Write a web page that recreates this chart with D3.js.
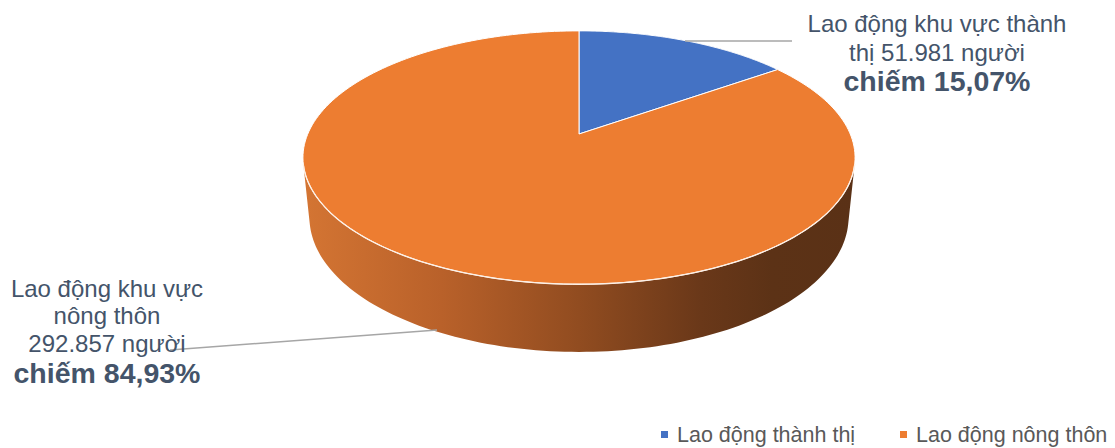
<!DOCTYPE html>
<html><head><meta charset="utf-8">
<script src="https://cdn.jsdelivr.net/npm/d3@7"></script>
<style>body{margin:0;background:#fff}svg{display:block;font-family:"Liberation Sans",Arial,sans-serif}</style>
</head><body><svg id="c" width="1115" height="448"></svg>
<script>
const categories = ["Lao động thành thị", "Lao động nông thôn"];
const values = [51981, 292857];
const percentLabels = ["15,07%", "84,93%"];
const labelLines = [
  ["Lao động khu vực thành", "thị 51.981 người"],
  ["Lao động khu vực", "nông thôn", "292.857 người"]
];
const colors = ["#4472C4", "#ED7D31"];

const svg = d3.select("#c");
const cx = 579, cy = 134, f = 1302, D = 4.8, phi = 26.8 * Math.PI / 180, h = 0.2485;
const s = Math.sin(phi), c = Math.cos(phi);
function proj(theta, r, Y) {
  const X = r * Math.sin(theta), Z = r * Math.cos(theta);
  const v = Z * s + Y * c, w = D + Z * c - Y * s;
  return [cx + f * X / w, cy - f * v / w];
}
const pie = d3.pie().sort(null).value(d => d)(values);
const line = d3.line();

// wall gradient
const defs = svg.append("defs");
const g = defs.append("linearGradient").attr("id", "wall").attr("gradientUnits", "userSpaceOnUse")
  .attr("x1", 303).attr("x2", 855).attr("y1", 0).attr("y2", 0);
[[0, "#d47533"], [0.25, "#b9612a"], [0.5, "#914c20"], [0.72, "#6a3819"], [0.85, "#5c3216"], [1, "#5a3116"]]
  .forEach(([o, col]) => g.append("stop").attr("offset", o).attr("stop-color", col));

// visible wall range
const lim = Math.acos(-1 / (D * c));
const wallA = lim, wallB = 2 * Math.PI - lim;
pie.forEach((p, i) => {
  const a0 = Math.max(p.startAngle, wallA), a1 = Math.min(p.endAngle, wallB);
  if (a1 <= a0) return;
  const N = 120, top = [], bot = [];
  for (let k = 0; k <= N; k++) {
    const t = a0 + (a1 - a0) * k / N;
    top.push(proj(t, 1, 0)); bot.push(proj(t, 1, -h));
  }
  svg.append("path").attr("d", line(top.concat(bot.reverse())) + "Z")
    .attr("fill", i === 1 ? "url(#wall)" : d3.color(colors[i]).darker(1));
});

// top faces
pie.forEach((p, i) => {
  const N = 200, pts = [proj(0, 0, 0)];
  for (let k = 0; k <= N; k++) pts.push(proj(p.startAngle + (p.endAngle - p.startAngle) * k / N, 1, 0));
  svg.append("path").attr("d", line(pts) + "Z").attr("fill", colors[i])
    .attr("stroke", "#fff").attr("stroke-width", 1).attr("stroke-linejoin", "round");
});
// rim highlight
{
  const pts = [];
  for (let k = 0; k <= 120; k++) pts.push(proj(wallA + (wallB - wallA) * k / 120, 1, 0));
  svg.append("path").attr("d", line(pts)).attr("fill", "none").attr("stroke", "#fdf0e6").attr("stroke-width", 1.3);
}

// leader lines
svg.append("path").attr("d", "M685,41L792,41").attr("stroke", "#a6a6a6").attr("stroke-width", 1.5).attr("fill", "none");
svg.append("path").attr("d", "M170,350L437,330").attr("stroke", "#a6a6a6").attr("stroke-width", 1.5).attr("fill", "none");

// labels
const lab = [{x: 937, ys: [32, 61], yb: 91}, {x: 107, ys: [297, 324, 352], yb: 383}];
labelLines.forEach((lines, i) => {
  const L = lab[i];
  lines.forEach((t, j) => svg.append("text").attr("x", L.x).attr("y", L.ys[j]).attr("text-anchor", "middle")
    .attr("font-size", 24).attr("fill", "#44546A").text(t));
  svg.append("text").attr("x", L.x).attr("y", L.yb).attr("text-anchor", "middle")
    .attr("font-size", 28.5).attr("font-weight", "bold").attr("fill", "#44546A").text("chiếm " + percentLabels[i]);
});

// legend
const legX = [661, 900];
categories.forEach((cat, i) => {
  svg.append("rect").attr("x", legX[i]).attr("y", 431).attr("width", 7).attr("height", 7).attr("fill", colors[i]);
  svg.append("text").attr("x", legX[i] + 16).attr("y", 442).attr("font-size", 21.5).attr("fill", "#595959").text(cat);
});
</script></body></html>
